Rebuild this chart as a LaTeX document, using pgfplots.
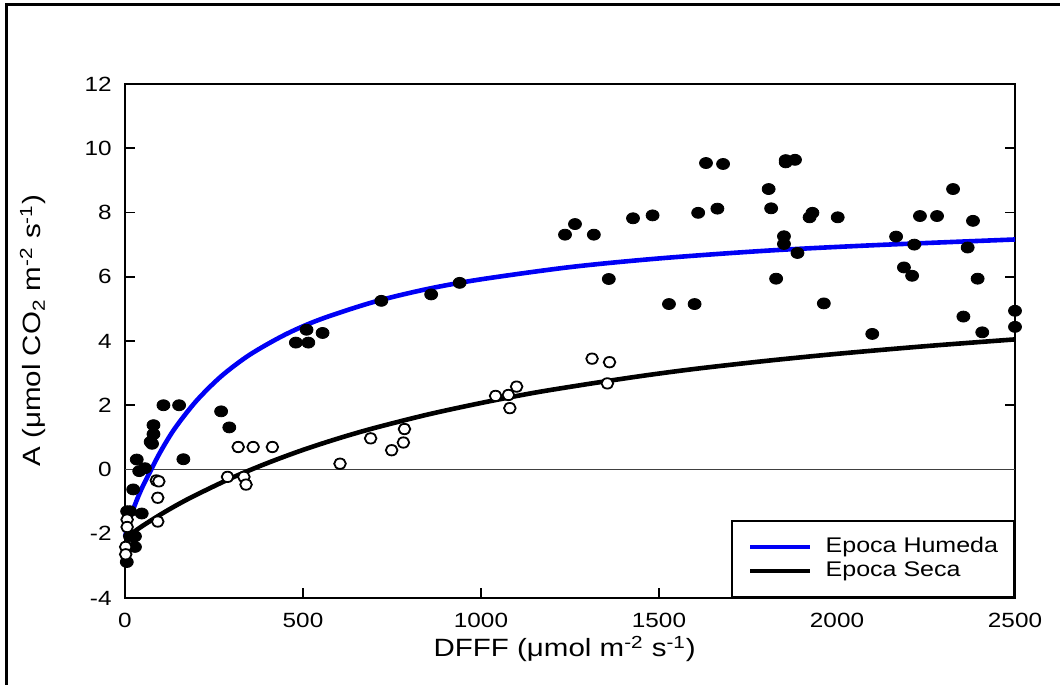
\documentclass[border=0pt]{standalone}
\usepackage{fontspec}
\setmainfont{Liberation Sans}[FakeStretch=1.18]
\usepackage{pgfplots}
\pgfplotsset{compat=1.18}
\definecolor{curveblue}{RGB}{0,0,245}
\begin{document}
\begin{tikzpicture}
\path[use as bounding box] (-62.5pt,-43.5pt) rectangle (467.5pt,299pt);
\draw[line width=1.5pt] (-59pt,-43.5pt) -- (-59pt,296.5pt) -- (467.5pt,296.5pt);
\begin{axis}[
  at={(0,0)}, anchor=south west,
  scale only axis, width=445pt, height=257pt,
  xmin=0, xmax=2500, ymin=-4, ymax=12,
  xtick={0,500,...,2500}, ytick={-4,-2,...,12},
  xtick pos=bottom, ytick pos=both,
  tick align=inside, major tick length=5pt,
  every tick/.style={black, line width=0.8pt},
  axis line style={line width=0.9pt},
  clip=false,
  /pgf/number format/assume math mode=true,
  /pgf/number format/1000 sep={},
  ticklabel style={font=\fontsize{10.3}{12}\selectfont},
  yticklabel style={inner sep=0pt, anchor=east, xshift=-6.5pt},
  xticklabel style={inner sep=0pt, anchor=north, yshift=-7.5pt},
  xlabel={DFFF (μmol m\textsuperscript{-2} s\textsuperscript{-1})},
  ylabel={A (μmol CO\textsubscript{2} m\textsuperscript{-2} s\textsuperscript{-1})},
  label style={font=\fontsize{12.5}{14}\selectfont},
  x label style={at={(axis description cs:0.494,-0.099)}, anchor=center},
  y label style={at={(axis description cs:-0.1034,0.52)}, anchor=center},
  legend style={at={(1,0)}, anchor=south east, draw=black, line width=0.9pt,
    fill=white, inner xsep=8pt, inner ysep=8pt, row sep=2pt, column sep=6.5pt,
    font=\fontsize{10.6}{12}\selectfont,
    nodes={inner sep=0pt, text height=7.5pt, text depth=2.5pt}},
  legend cell align=left,
  legend image code/.code={\draw[#1, line width=2.3pt] (0pt,0pt) -- (30pt,0pt);},
]
\addplot[forget plot, black!75, line width=0.75pt] coordinates {(0,0) (2500,0)};
% Epoca Humeda (filled)
\addplot[forget plot, only marks, mark=*, mark size=2.75pt, mark options={xscale=1.18, fill=black, draw=black}] coordinates {
(5,-2.88) (28,-2.41) (14,-2.08) (28,-2.08) (6,-1.30) (14,-1.30) (47,-1.37)
(23,-0.62) (33,0.31) (40,-0.05) (56,0.04) (72,0.86) (76,0.80) (80,1.10) (80,1.38)
(108,2.00) (152,2.00) (164,0.32) (270,1.81) (293,1.31)
(480,3.95) (510,4.35) (515,3.95) (555,4.25) (720,5.25) (860,5.45) (940,5.81)
(1236,7.31) (1264,7.64) (1317,7.31) (1359,5.93) (1427,7.82) (1482,7.91)
(1528,5.15) (1600,5.15) (1610,7.99) (1632,9.54) (1664,8.12) (1680,9.51)
(1808,8.73) (1815,8.13) (1829,5.94) (1851,7.26) (1851,7.02) (1856,9.63)
(1856,9.56) (1882,9.64) (1889,6.74) (1923,7.85) (1931,7.99) (1963,5.17)
(2002,7.85) (2099,4.22) (2166,7.25) (2188,6.29) (2211,6.03) (2217,7.00)
(2233,7.89) (2281,7.89) (2326,8.73) (2355,4.76) (2367,6.91) (2382,7.74)
(2395,5.94) (2408,4.27) (2500,4.94) (2500,4.44)
};
% Epoca Seca (open)
\addplot[forget plot, only marks, mark=*, mark size=2.6pt, mark options={xscale=1.12, fill=white, draw=black, line width=0.9pt}] coordinates {
(2,-2.41) (2,-2.64) (6,-1.56) (6,-1.79) (88,-0.34) (95,-0.37) (92,-0.88) (92,-1.62)
(288,-0.23) (318,0.70) (334,-0.23) (340,-0.47) (360,0.70) (414,0.70) (604,0.18)
(690,0.97) (749,0.60) (782,0.84) (785,1.26) (1041,2.29) (1077,2.32) (1081,1.91)
(1100,2.58) (1312,3.45) (1355,2.68) (1361,3.34)
};
\addplot[curveblue, line width=2.3pt, smooth] coordinates {
(0,-2.10) (10,-1.65) (20,-1.33) (35,-0.90) (50,-0.52) (70,-0.08) (100,0.56)
(140,1.28) (200,2.13) (270,2.90) (350,3.57) (450,4.20) (550,4.68) (700,5.22)
(850,5.62) (1000,5.92) (1250,6.30) (1500,6.57) (1800,6.81) (2100,6.98) (2500,7.16)
};
\addlegendentry{Epoca Humeda}
\addplot[black, line width=2.3pt, smooth] coordinates {
(0,-2.12) (25,-1.94) (50,-1.75) (100,-1.40) (150,-1.08) (200,-0.79) (300,-0.26)
(400,0.20) (500,0.61) (600,0.97) (700,1.29) (850,1.71) (1000,2.07) (1150,2.39)
(1300,2.66) (1450,2.91) (1600,3.13) (1800,3.38) (2000,3.60) (2250,3.84) (2500,4.05)
};
\addlegendentry{Epoca Seca}
\end{axis}
\end{tikzpicture}
\end{document}
